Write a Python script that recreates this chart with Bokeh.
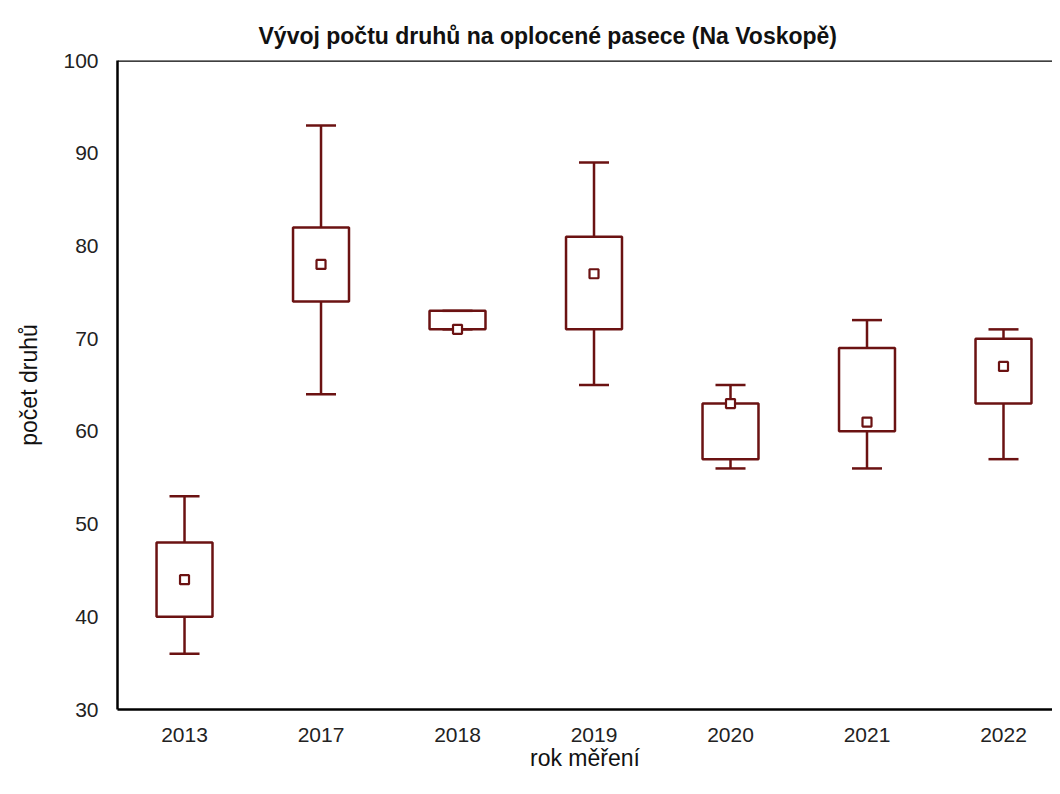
from bokeh.plotting import figure
from bokeh.models import Span, Title, FixedTicker
from bokeh.embed import file_html
from bokeh.resources import INLINE

years = ["2013", "2017", "2018", "2019", "2020", "2021", "2022"]
whisker_low = [36, 64, 71, 65, 56, 56, 57]
box_low = [40, 74, 71, 71, 57, 60, 63]
box_high = [48, 82, 73, 81, 63, 69, 70]
whisker_high = [53, 93, 73, 89, 65, 72, 71]
means = [44, 78, 71, 77, 63, 61, 67]
y_ticks = [30, 40, 50, 60, 70, 80, 90, 100]
title = "Vývoj počtu druhů na oplocené pasece (Na Voskopě)"

COLOR = "#6b1212"
FONT = "Liberation Sans"

xs = list(range(1, len(years) + 1))
box_w = 0.205
cap_w = 0.11
X0, X1 = 0.509, 7.359

p = figure(width=1052, height=778, output_backend="svg", toolbar_location=None,
           x_range=(X0, X1), y_range=(30, 100),
           min_border_left=117, min_border_right=0, min_border_top=60,
           min_border_bottom=69)
p.outline_line_color = None
p.xgrid.grid_line_color = None
p.ygrid.grid_line_color = None
p.background_fill_color = "white"
p.border_fill_color = "white"

# whiskers
p.segment(x0=xs, y0=whisker_low, x1=xs, y1=box_low, line_color=COLOR, line_width=2.5)
p.segment(x0=xs, y0=box_high, x1=xs, y1=whisker_high, line_color=COLOR, line_width=2.5)
# caps
p.segment(x0=[x - cap_w for x in xs], y0=whisker_low, x1=[x + cap_w for x in xs], y1=whisker_low,
          line_color=COLOR, line_width=2.5)
p.segment(x0=[x - cap_w for x in xs], y0=whisker_high, x1=[x + cap_w for x in xs], y1=whisker_high,
          line_color=COLOR, line_width=2.5)
# boxes
p.quad(left=[x - box_w for x in xs], right=[x + box_w for x in xs], bottom=box_low, top=box_high,
       fill_alpha=0, line_color=COLOR, line_width=2.5)
# means
p.scatter(x=xs, y=means, marker="square", size=9, fill_color="white", line_color=COLOR, line_width=2.2)

# top frame line
p.add_layout(Span(location=100, dimension="width", line_color="black", line_width=2.5))

for ax in (p.xaxis[0], p.yaxis[0]):
    ax.axis_line_color = "black"
    ax.axis_line_width = 2.5
    ax.major_tick_line_color = None
    ax.minor_tick_line_color = None
    ax.major_tick_out = 0
    ax.major_tick_in = 0
    ax.major_label_text_font = FONT
    ax.major_label_text_font_size = "21px"
    ax.major_label_text_color = "#222222"
    ax.axis_label_text_font = FONT
    ax.axis_label_text_font_style = "normal"
    ax.axis_label_text_color = "#111111"
    ax.axis_label_text_font_size = "23px"

p.xaxis.ticker = FixedTicker(ticks=xs)
p.xaxis.major_label_overrides = {x: y for x, y in zip(xs, years)}
p.xaxis.major_label_standoff = 18
p.xaxis.axis_label = "rok měření"
p.xaxis.axis_label_standoff = 0

p.yaxis.ticker = FixedTicker(ticks=y_ticks)
p.yaxis.major_label_standoff = 19
p.yaxis.axis_label = "počet druhů"
p.yaxis.axis_label_standoff = 18

p.add_layout(Title(text=title, align="left", offset=141, vertical_align="top",
                   text_font=FONT, text_font_size="23px", text_font_style="bold",
                   text_color="#111111", standoff=20), "above")

open("out.html", "w").write(file_html(p, INLINE))
